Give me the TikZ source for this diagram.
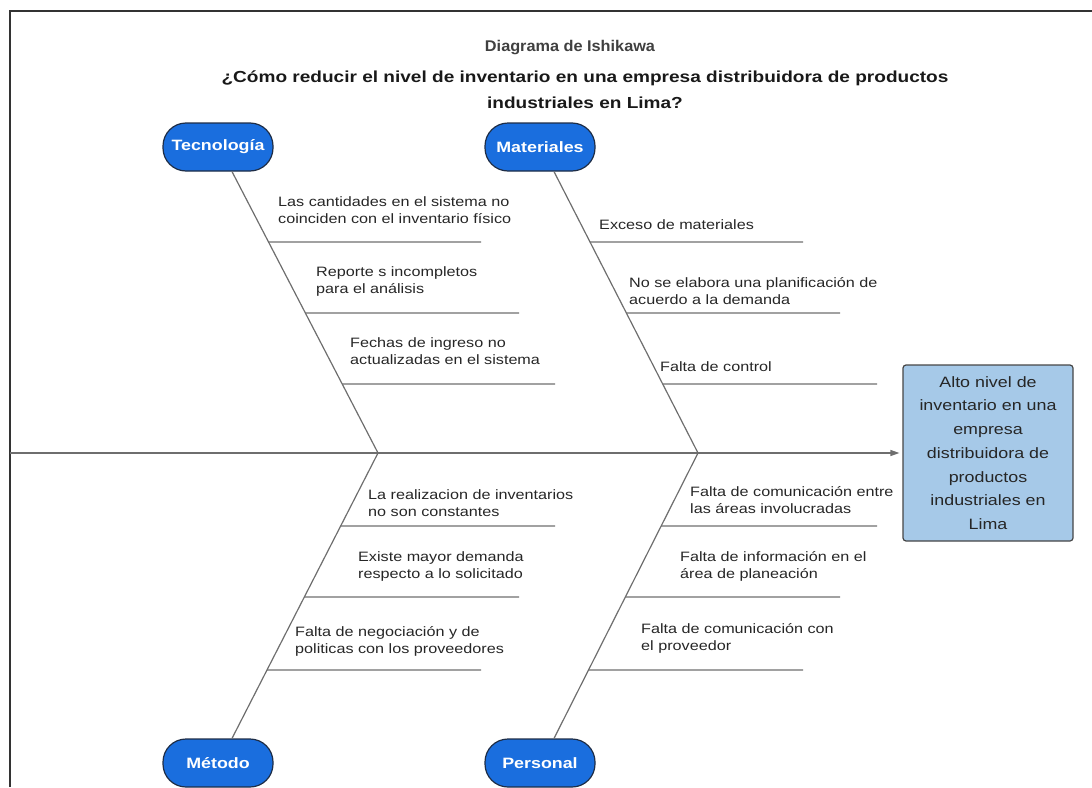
\documentclass[tikz,border=0pt]{standalone}
\usepackage{fontspec}
\setmainfont{Liberation Sans}[FakeStretch=1.19]
\newfontfamily\headfont{Liberation Sans}[FakeStretch=1.05]
\usetikzlibrary{arrows.meta}

\definecolor{pillblue}{RGB}{26,110,222}
\definecolor{pilledge}{RGB}{30,45,70}
\definecolor{effectfill}{RGB}{166,201,232}
\definecolor{effectedge}{RGB}{70,70,70}
\definecolor{bonegray}{RGB}{110,110,110}
\definecolor{inkgray}{RGB}{38,38,38}

% one horizontal cause line hanging off a bone
\newcommand{\twig}[5]{%
  \coordinate (#1s) at (intersection of #2--#3 and 0,#4--1,#4);
  \coordinate (#1e) at (#5,#4);
  \draw[twig] (#1s) -- (#1e);}

\tikzset{
  pill/.style={draw=pilledge, line width=1.2pt, fill=pillblue,
    rounded corners=23pt, minimum width=110pt, minimum height=48pt,
    inner sep=0pt, text=white, font=\bfseries\fontsize{15}{18}\selectfont},
  effect/.style={draw=effectedge, line width=1.2pt, fill=effectfill,
    rounded corners=3pt, minimum width=170pt, minimum height=176pt,
    align=center, text=inkgray, font=\fontsize{15}{23.7}\selectfont},
  bone/.style={draw=bonegray, line width=1.2pt},
  twig/.style={draw=bonegray, line width=1.1pt},
  cause/.style={anchor=west, align=left, inner sep=0pt, text=inkgray,
    font=\fontsize{13.6}{17}\selectfont},
  frame/.style={draw=black!80, line width=1.6pt},
}

\begin{document}
\begin{tikzpicture}[x=1pt, y=-1pt]
\useasboundingbox (0,0) rectangle (1092,787);

% frame (top and left edges)
\draw[frame] (10,787) -- (10,11) -- (1092,11);

% title
\node[text=black!75, font=\headfont\bfseries\fontsize{15.5}{18}\selectfont] (title) at (570,48) {Diagrama de Ishikawa};
\node[text=black!90, align=center, font=\bfseries\fontsize{16}{26}\selectfont] (question) at (585,90)
  {¿Cómo reducir el nivel de inventario en una empresa distribuidora de productos\\industriales en Lima?};

% effect
\node[effect] (eff) at (988,453) {Alto nivel de\\inventario en una\\empresa\\distribuidora de\\productos\\industriales en\\Lima};

% spine
\coordinate (tail) at (10,453);
\coordinate (jA) at (378,453);
\coordinate (jB) at (698,453);
\draw[bone, -{Triangle[length=9pt,width=6pt]}] (tail) -- ([xshift=-3pt]eff.west);

% categories
\node[pill] (tec) at (218,147) {Tecnología};
\node[pill] (mat) at (540,147) {Materiales};
\node[pill] (met) at (218,763) {Método};
\node[pill] (per) at (540,763) {Personal};

\coordinate (tecB) at ([xshift=14pt]tec.south);
\coordinate (matB) at ([xshift=14pt]mat.south);
\coordinate (metB) at ([xshift=14pt]met.north);
\coordinate (perB) at ([xshift=14pt]per.north);

\draw[bone] (tecB) -- (jA);
\draw[bone] (matB) -- (jB);
\draw[bone] (jA) -- (metB);
\draw[bone] (jB) -- (perB);

% cause lines
\twig{ta}{tecB}{jA}{242}{481}
\twig{tb}{tecB}{jA}{313}{519}
\twig{tc}{tecB}{jA}{384}{555}
\twig{ma}{matB}{jB}{242}{803}
\twig{mb}{matB}{jB}{313}{840}
\twig{mc}{matB}{jB}{384}{877}
\twig{ea}{jA}{metB}{526}{555}
\twig{eb}{jA}{metB}{597}{519}
\twig{ec}{jA}{metB}{670}{481}
\twig{pa}{jB}{perB}{526}{877}
\twig{pb}{jB}{perB}{597}{840}
\twig{pc}{jB}{perB}{670}{803}

% cause texts
\node[cause] (tat) at (278,210) {Las cantidades en el sistema no\\coinciden con el inventario físico};
\node[cause] (tbt) at (316,281) {Reporte s incompletos\\para el análisis};
\node[cause] (tct) at (350,351) {Fechas de ingreso no\\actualizadas en el sistema};
\node[cause] (mat1) at (599,225) {Exceso de materiales};
\node[cause] (mbt) at (629,291) {No se elabora una planificación de\\acuerdo a la demanda};
\node[cause] (mct) at (660,367) {Falta de control};
\node[cause] (eat) at (368,503) {La realizacion de inventarios\\no son constantes};
\node[cause] (ebt) at (358,566) {Existe mayor demanda\\respecto a lo solicitado};
\node[cause] (ect) at (295,641) {Falta de negociación y de\\politicas con los proveedores};
\node[cause] (pat) at (690,500) {Falta de comunicación entre\\las áreas involucradas};
\node[cause] (pbt) at (680,566) {Falta de información en el\\área de planeación};
\node[cause] (pct) at (641,638) {Falta de comunicación con\\el proveedor};
\end{tikzpicture}
\end{document}
